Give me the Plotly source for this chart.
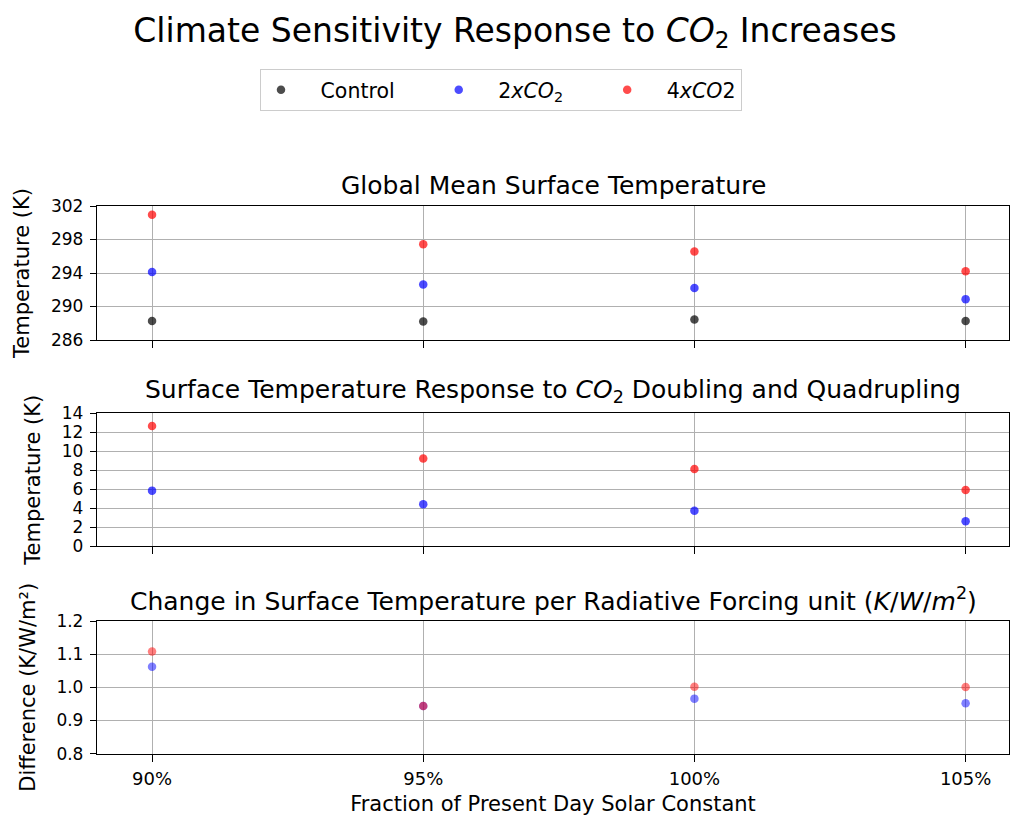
import plotly.graph_objects as go

categories = ["90%", "95%", "100%", "105%"]

control_temp = [288.28, 288.2, 288.44, 288.28]
co2x2_temp = [294.12, 292.64, 292.2, 290.88]
co2x4_temp = [300.96, 297.44, 296.56, 294.2]

co2x2_resp = [5.86, 4.42, 3.75, 2.63]
co2x4_resp = [12.67, 9.23, 8.14, 5.93]

co2x2_sens = [1.062, 0.944, 0.966, 0.952]
co2x4_sens = [1.108, 0.944, 1.002, 1.001]

W, H = 1010, 816
FONT = "DejaVu Sans"
BLACK = "rgba(0,0,0,0.7)"
BLUE = "rgba(0,0,255,0.7)"
RED = "rgba(255,0,0,0.7)"
BLUE_L = "rgba(0,0,255,0.5)"
RED_L = "rgba(255,0,0,0.5)"
TICK = 17
LAB = 21
LEG = 20.5
SUB = 25
MAIN = 33

def py(px):
    return 1 - px / H

def pxx(px):
    return (px - 97) / (W - 98)

xidx = list(range(len(categories)))

fig = go.Figure()
def add(y, color, name, ax, show):
    fig.add_trace(go.Scatter(
        x=xidx, y=y, mode="markers", name=name, showlegend=show,
        marker=dict(color=color, size=8.5, line=dict(width=0)),
        xaxis="x" + ax, yaxis="y" + ax))

NB = "&nbsp;&nbsp;&nbsp;"
TR = "&nbsp;" * 6
add(control_temp, BLACK, NB + "Control" + TR, "", True)
add(co2x2_temp, BLUE, NB + "2<i>xCO</i><sub>2</sub>" + TR, "", True)
add(co2x4_temp, RED, NB + "4<i>xCO</i>2", "", True)
add(co2x2_resp, BLUE, "2x", "2", False)
add(co2x4_resp, RED, "4x", "2", False)
add(co2x2_sens, BLUE_L, "2x", "3", False)
add(co2x4_sens, RED_L, "4x", "3", False)

xrange = [-0.203, 3.16]
common_x = dict(range=xrange, tickmode="array", tickvals=xidx, ticktext=categories,
                showgrid=True, gridcolor="#b0b0b0", gridwidth=1,
                showline=True, linecolor="black", linewidth=1.3, mirror=True,
                ticks="outside", ticklen=7, tickcolor="black", tickwidth=1.2,
                ticklabelstandoff=2,
                tickfont=dict(family=FONT, size=TICK + 1, color="black"), zeroline=False)
common_y = dict(showgrid=True, gridcolor="#b0b0b0", gridwidth=1,
                showline=True, linecolor="black", linewidth=1.3, mirror=True,
                ticks="outside", ticklen=6, tickcolor="black", tickwidth=1.2,
                ticklabelstandoff=3,
                tickfont=dict(family=FONT, size=TICK, color="black"), zeroline=False)
ytitle_font = dict(family=FONT, size=LAB, color="black")

d1 = [py(340), py(206)]
d2 = [py(546.3), py(413.3)]
d3 = [py(753.7), py(621)]

fig.update_layout(
    width=W, height=H,
    margin=dict(l=97, r=1, t=0, b=0, autoexpand=False),
    plot_bgcolor="white", paper_bgcolor="white",
    font=dict(family=FONT, color="black"),
    title=dict(text="Climate Sensitivity Response to <i>CO</i><sub>2</sub> Increases",
               x=515 / W, xanchor="center", y=py(30), yanchor="middle", xref="container", yref="container",
               font=dict(family=FONT, size=MAIN, color="black")),
    xaxis=dict(common_x, domain=[0, 1], anchor="y", showticklabels=False),
    yaxis=dict(common_y, domain=d1, anchor="x", range=[286, 302], tickvals=[286, 290, 294, 298, 302],
               title=dict(text="Temperature (K)", font=ytitle_font)),
    xaxis2=dict(common_x, domain=[0, 1], anchor="y2", showticklabels=False),
    yaxis2=dict(common_y, domain=d2, anchor="x2", range=[0, 14], tickvals=list(range(0, 15, 2)),
                title=dict(text="Temperature (K)", font=ytitle_font)),
    xaxis3=dict(common_x, domain=[0, 1], anchor="y3", showticklabels=True,
                title=dict(text="Fraction of Present Day Solar Constant", font=ytitle_font)),
    yaxis3=dict(common_y, domain=d3, anchor="x3", range=[0.8, 1.2], tickvals=[0.8, 0.9, 1.0, 1.1, 1.2],
                tickformat=".1f", title=dict(text="Difference (K/W/m²)", font=ytitle_font)),
    legend=dict(orientation="h", x=pxx(501), xanchor="center", y=py(69), yanchor="top",
                bordercolor="#cccccc", borderwidth=1, bgcolor="white",
                font=dict(family=FONT, size=LEG, color="black"), tracegroupgap=0),
    showlegend=True,
)

ann = []
def text(x, y, s, size, angle=0):
    ann.append(dict(x=pxx(x), y=py(y), xref="paper", yref="paper", text=s, showarrow=False,
                    textangle=angle, font=dict(family=FONT, size=size, color="black"),
                    xanchor="center", yanchor="middle"))

cx = (97 + 1009) / 2
text(cx, 186, "Global Mean Surface Temperature", SUB)
text(cx, 391, "Surface Temperature Response to <i>CO</i><sub>2</sub> Doubling and Quadrupling", SUB)
text(cx, 599, "Change in Surface Temperature per Radiative Forcing unit (<i>K</i>/<i>W</i>/<i>m</i><sup>2</sup>)", SUB)
fig.update_layout(annotations=ann)

fig.write_html("out.html")
